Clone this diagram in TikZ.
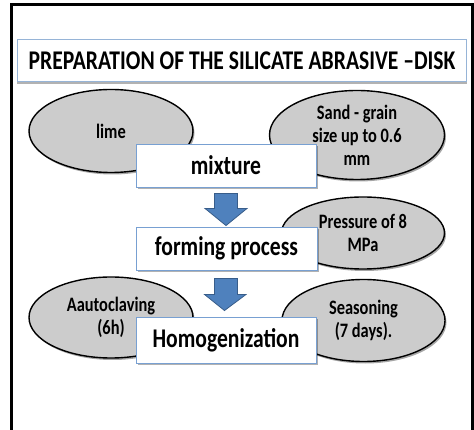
\documentclass[tikz,border=0pt]{standalone}
\usepackage{fontspec}
\newfontfamily\cf[FakeStretch=0.8]{Carlito}
\usetikzlibrary{shapes.geometric,shadows,calc}
\definecolor{ellfill}{RGB}{204,204,204}
\definecolor{boxline}{RGB}{120,160,210}
\definecolor{titleline}{RGB}{150,180,215}
\definecolor{arrfill}{RGB}{79,129,189}
\definecolor{arrline}{RGB}{56,93,138}
\begin{document}
\begin{tikzpicture}[x=1pt,y=-1pt,
  ell/.style={ellipse, draw=black, line width=1.4pt, fill=ellfill, inner sep=0pt,
    align=center, font=\cf\bfseries\fontsize{20.5}{23}\selectfont,
    drop shadow={shadow xshift=1.5pt, shadow yshift=-2pt, opacity=0.35, fill=black}},
  stepbox/.style={rectangle, draw=boxline, line width=0.9pt, fill=white, inner sep=0pt,
    font=\cf\bfseries\fontsize{27}{30}\selectfont,
    drop shadow={shadow xshift=1.5pt, shadow yshift=-2pt, opacity=0.3, fill=black}},
  titlebox/.style={rectangle, draw=titleline, line width=1pt, fill=white, inner sep=0pt,
    font=\cf\bfseries\fontsize{27}{30}\selectfont,
    drop shadow={shadow xshift=0pt, shadow yshift=-2.5pt, opacity=0.3, fill=black}},
  bigarrow/.style={fill=arrfill, draw=arrline, line width=0.8pt}
]
\useasboundingbox (0,0) rectangle (474,430);
\fill[white] (0,0) rectangle (474,430);
% outer frame
\coordinate (fbl) at (11.5,432);
\coordinate (ftl) at (11.5,5);
\coordinate (ftr) at (472,5);
\coordinate (fbr) at (472,432);
\draw[line width=3pt] (fbl) -- (ftl) -- (ftr) -- (fbr);
% title
\node[titlebox, minimum width=449.5pt, minimum height=42pt] (title) at (242,61)
  {PREPARATION OF THE SILICATE ABRASIVE \textendash DISK};
% ellipses
\node[ell, minimum width=164pt, minimum height=83pt] (lime) at (111,131) {lime};
\node[ell, minimum width=175pt, minimum height=89pt] (sand) at (357,135)
  {Sand - grain\\size up to 0.6\\mm};
\node[ell, minimum width=163pt, minimum height=72pt] (press) at (363,233)
  {Pressure of 8\\MPa};
\node[ell, minimum width=164pt, minimum height=81pt] (auto) at (111,317.5)
  {Aautoclaving\\(6h)};
\node[ell, minimum width=163pt, minimum height=82pt] (season) at (363.5,320.5)
  {Seasoning\\(7 days).};
% process boxes
\node[stepbox, minimum width=180pt, minimum height=43pt] (mix) at (226,165.5) {mixture};
\node[stepbox, minimum width=181pt, minimum height=43pt] (form) at (226.5,248.5) {forming process};
\node[stepbox, minimum width=180pt, minimum height=46pt] (homog) at (226,340) {Homogenization};
% block arrows
\draw[bigarrow]
  ($(mix.south)+(-11.5,6)$) -- ($(mix.south)+(11.5,6)$) -- ($(mix.south)+(11.5,21)$)
  -- ($(mix.south)+(21,21)$) -- ($(form.north)+(-0.5,-1)$) -- ($(mix.south)+(-21,21)$)
  -- ($(mix.south)+(-11.5,21)$) -- cycle;
\draw[bigarrow]
  ($(form.south)+(-12,8)$) -- ($(form.south)+(11,8)$) -- ($(form.south)+(11,24)$)
  -- ($(form.south)+(19.5,24)$) -- ($(homog.north)+(-1.5,-6)$) -- ($(form.south)+(-22,24)$)
  -- ($(form.south)+(-12,24)$) -- cycle;
\end{tikzpicture}
\end{document}
